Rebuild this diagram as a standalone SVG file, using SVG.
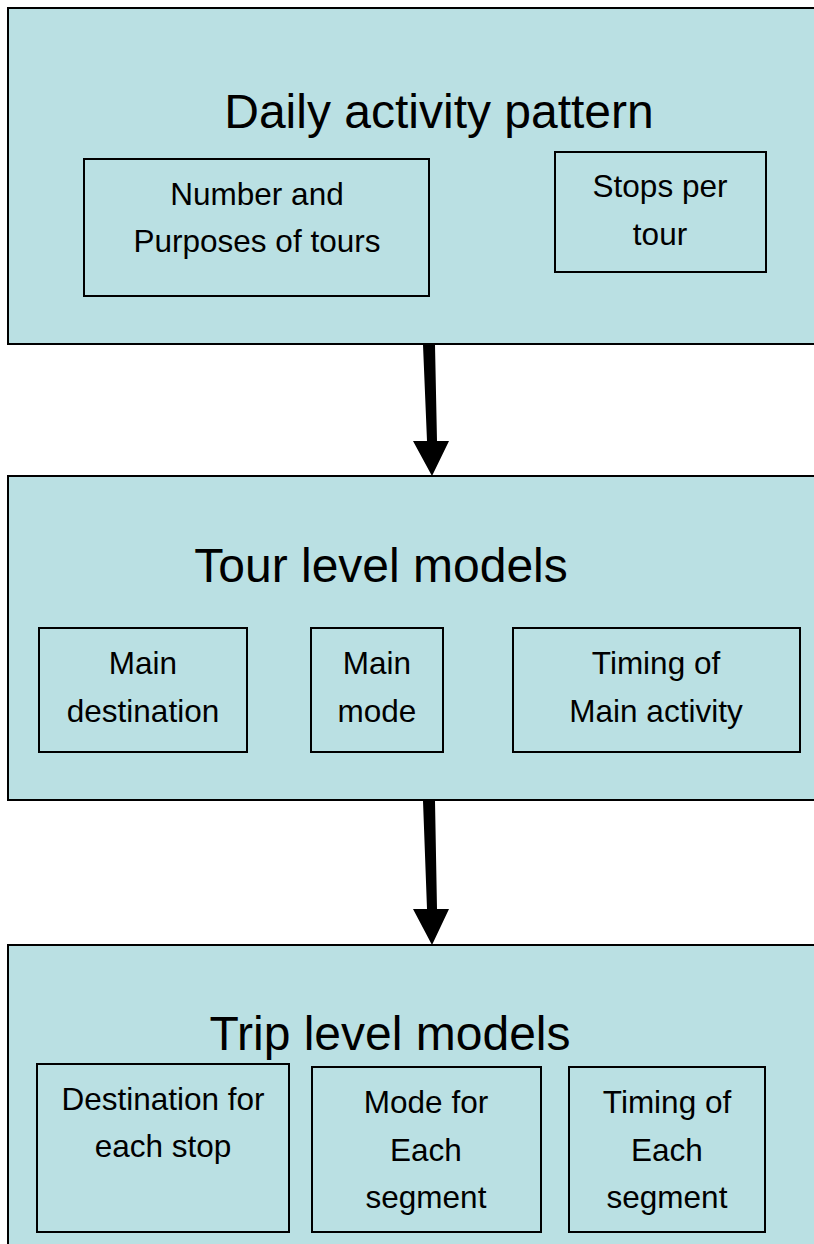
<svg xmlns="http://www.w3.org/2000/svg" width="814" height="1244" viewBox="0 0 814 1244">
<style>
.outer{fill:#bae0e3;stroke:#000;stroke-width:2}
.inner{fill:#bae0e3;stroke:#000;stroke-width:2}
.title{font-family:"Liberation Sans",Arial,sans-serif;font-size:48px;fill:#000;text-anchor:middle}
.lbl{font-family:"Liberation Sans",Arial,sans-serif;font-size:31.5px;fill:#000;text-anchor:middle}
.arr{fill:#000}
</style>
<rect width="814" height="1244" fill="#fff"/>
<g id="daily">
<rect class="outer" x="8" y="8" width="820" height="336"/>
<text class="title" x="439" y="128">Daily activity pattern</text>
</g>
<g id="number">
<rect class="inner" x="84" y="159" width="345" height="137"/>
<text class="lbl" x="257" y="205">Number and</text>
<text class="lbl" x="257" y="252">Purposes of tours</text>
</g>
<g id="stops">
<rect class="inner" x="555" y="152" width="211" height="120"/>
<text class="lbl" x="660" y="197">Stops per</text>
<text class="lbl" x="660" y="245">tour</text>
</g>
<g id="tour">
<rect class="outer" x="8" y="476" width="820" height="324"/>
<text class="title" x="381" y="582">Tour level models</text>
</g>
<g id="maindest">
<rect class="inner" x="39" y="628" width="208" height="124"/>
<text class="lbl" x="143" y="674">Main</text>
<text class="lbl" x="143" y="722">destination</text>
</g>
<g id="mainmode">
<rect class="inner" x="311" y="628" width="132" height="124"/>
<text class="lbl" x="377" y="674">Main</text>
<text class="lbl" x="377" y="722">mode</text>
</g>
<g id="timingmain">
<rect class="inner" x="513" y="628" width="287" height="124"/>
<text class="lbl" x="656" y="674">Timing of</text>
<text class="lbl" x="656" y="722">Main activity</text>
</g>
<g id="trip">
<rect class="outer" x="8" y="945" width="820" height="310"/>
<text class="title" x="390" y="1050">Trip level models</text>
</g>
<g id="deststop">
<rect class="inner" x="37" y="1064" width="252" height="168"/>
<text class="lbl" x="163" y="1110">Destination for</text>
<text class="lbl" x="163" y="1157">each stop</text>
</g>
<g id="modeseg">
<rect class="inner" x="312" y="1067" width="229" height="165"/>
<text class="lbl" x="426" y="1113">Mode for</text>
<text class="lbl" x="426" y="1161">Each</text>
<text class="lbl" x="426" y="1208">segment</text>
</g>
<g id="timingseg">
<rect class="inner" x="569" y="1067" width="196" height="165"/>
<text class="lbl" x="667" y="1113">Timing of</text>
<text class="lbl" x="667" y="1161">Each</text>
<text class="lbl" x="667" y="1208">segment</text>
</g>
<g id="connectors">
<polygon class="arr" points="423,345 435,345 437,441 449,441 432,476 413,441 427,441"/>
<polygon class="arr" points="423,801 435,801 437,909 449,909 432,945 413,909 427,909"/>
</g>
</svg>
